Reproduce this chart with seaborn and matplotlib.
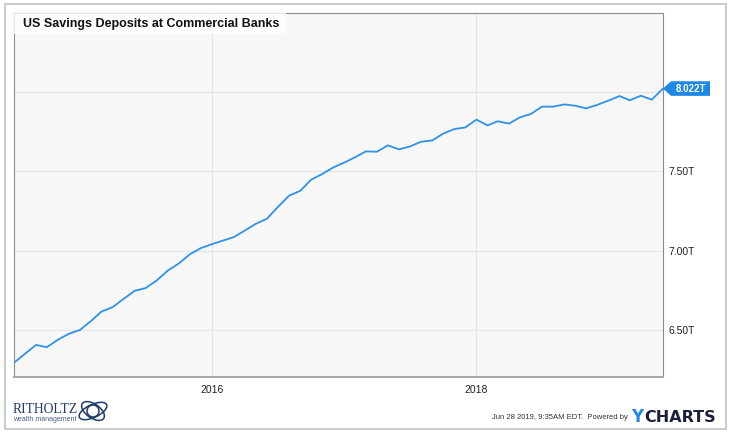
import pandas as pd
import matplotlib
matplotlib.use("Agg")
import matplotlib.pyplot as plt
import matplotlib.dates as mdates
from matplotlib.patches import Rectangle, Polygon, Ellipse
from matplotlib.transforms import IdentityTransform
import seaborn as sns

# ---- data (monthly, Jul 2014 .. Jun 2019), trillions of dollars ----
start_month = "2014-07-01"
deposits = [6.292, 6.350, 6.407, 6.393, 6.440, 6.477, 6.502, 6.559, 6.617, 6.645,
            6.696, 6.748, 6.765, 6.813, 6.876, 6.920, 6.979, 7.017, 7.042, 7.065,
            7.086, 7.128, 7.170, 7.202, 7.276, 7.347, 7.378, 7.448, 7.484, 7.525,
            7.556, 7.591, 7.626, 7.624, 7.664, 7.639, 7.657, 7.687, 7.695, 7.738,
            7.767, 7.777, 7.826, 7.790, 7.816, 7.801, 7.840, 7.862, 7.908, 7.908,
            7.922, 7.914, 7.897, 7.919, 7.946, 7.975, 7.948, 7.977, 7.952, 8.022]
months = pd.date_range(start_month, periods=len(deposits), freq="MS")
y_ticks = [6.5, 7.0, 7.5, 8.0]
y_tick_labels = ["6.50T", "7.00T", "7.50T", ""]
x_ticks = ["2016-01-01", "2018-01-01"]
x_tick_labels = ["2016", "2018"]

df = pd.DataFrame({"date": months, "value": deposits})

sns.set_style("white")
plt.rcParams["font.family"] = ["Liberation Sans", "DejaVu Sans"]

W, H = 734, 436
fig = plt.figure(figsize=(W / 100, H / 100), dpi=100)
fig.patch.set_facecolor("white")

# outer frame
fig.add_artist(Rectangle((4.5 / W, 1 - 429 / H), 721.5 / W, 424.5 / H,
                         transform=fig.transFigure, fill=False,
                         ec="#cccccc", lw=1.5))

ax = fig.add_axes([13.5 / W, 1 - 376.7 / H, (663 - 13.5) / W, (376.7 - 13.3) / H])
ax.set_facecolor("#f7f7f7")

line_color = "#2e93e8"
sns.lineplot(data=df, x="date", y="value", ax=ax, color=line_color, linewidth=1.3)

ax.set_xlim(months[0], months[-1])
ax.set_ylim(6.207, 8.496)

ax.set_xticks(pd.to_datetime(x_ticks))
ax.set_xticklabels(x_tick_labels)
ax.set_yticks(y_ticks)
ax.set_yticklabels(y_tick_labels)
ax.yaxis.tick_right()
ax.tick_params(axis="both", length=0, labelsize=7.5, colors="#222222")
ax.tick_params(axis="y", pad=4)
ax.tick_params(axis="x", pad=6)
ax.set_xlabel("")
ax.set_ylabel("")
ax.grid(True, color="#e4e4e4", linewidth=0.8)
ax.set_axisbelow(True)
for side in ["left", "right", "top"]:
    ax.spines[side].set_color("#8c8c8c")
    ax.spines[side].set_linewidth(0.8)
ax.spines["bottom"].set_color("#a8a8a8")
ax.spines["bottom"].set_linewidth(1.4)

# title box
fig.add_artist(Rectangle((13.5 / W, 1 - 34 / H), (286 - 13.5) / W, 20.7 / H,
                         transform=fig.transFigure, fc="white", alpha=0.8, ec="none"))
fig.text(23 / W, 1 - 24 / H, "US Savings Deposits at Commercial Banks",
         fontsize=9.0, fontweight="bold", color="#111111", va="center", ha="left")

# last value badge
fig.canvas.draw()
tip_x, tip_y = ax.transData.transform((mdates.date2num(months[-1]), deposits[-1]))
bh = 7.3
badge = Polygon([(tip_x, tip_y), (tip_x + 8, tip_y + bh), (tip_x + 47, tip_y + bh),
                 (tip_x + 47, tip_y - bh), (tip_x + 8, tip_y - bh)],
                closed=True, transform=IdentityTransform(), fc="#1e88e5", ec="none",
                clip_on=False, zorder=5)
fig.add_artist(badge)
fig.text((tip_x + 28) / W, tip_y / H, f"{deposits[-1]:.3f}T", color="white",
         fontsize=7, fontweight="bold", ha="center", va="center", zorder=6)

# footer
fig.text(492 / W, 1 - 417.5 / H, "Jun 28 2019, 9:35AM EDT.  Powered by",
         fontsize=5.5, color="#333333", ha="left", va="center")
fig.text(631 / W, 1 - 417 / H, "Y", fontsize=12, fontweight="bold",
         color="#1e88e5", ha="left", va="center", family="DejaVu Sans")
fig.text(644 / W, 1 - 417 / H, "CHARTS", fontsize=11.5, fontweight="bold",
         color="#1b1f3b", ha="left", va="center", family="DejaVu Sans")

# logo
fig.text(13 / W, 1 - 409 / H, "RITHOLTZ", fontsize=9.8, color="#1f3d6b",
         family="Liberation Serif", ha="left", va="center")
fig.text(13.5 / W, 1 - 419 / H, "wealth management", fontsize=5.0, color="#4a6080",
         ha="left", va="center")
for w, h, ang in [(30, 13, 25), (26, 14, -35), (12, 12, 0)]:
    fig.add_artist(Ellipse((93, H - 411), w, h, angle=ang, transform=IdentityTransform(),
                           fill=False, ec="#1f3d6b", lw=1.1))

plt.savefig("out.png", dpi=100)
